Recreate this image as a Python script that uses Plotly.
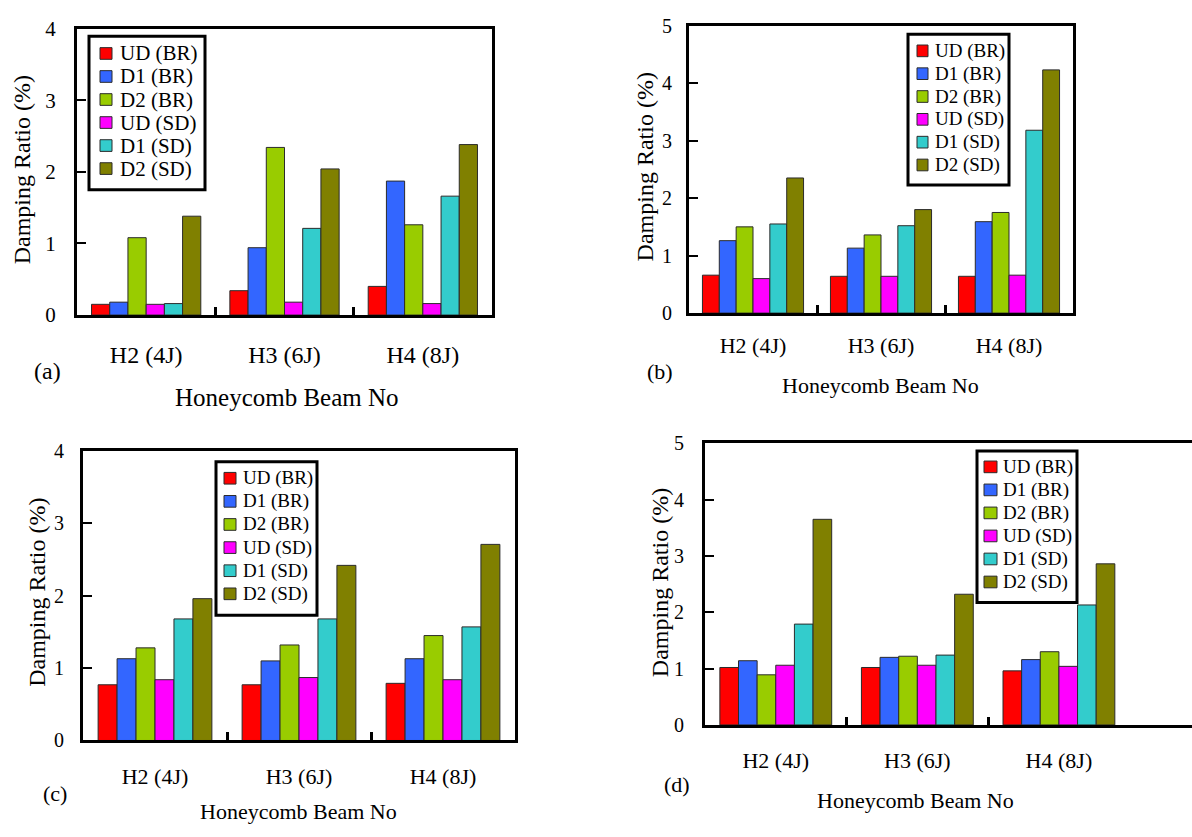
import plotly.graph_objects as go

W, H = 1192, 837
SERIF = "Liberation Serif"

# Beam categories (x axis)
beams = ["H2 (4J)", "H3 (6J)", "H4 (8J)"]

# Series names and fill colours
series_names = ["UD (BR)", "D1 (BR)", "D2 (BR)", "UD (SD)", "D1 (SD)", "D2 (SD)"]
series_colors = ["#FF0000", "#3366FF", "#99CC00", "#FF00FF", "#33CCCC", "#808000"]

# Damping ratio (%) - panel (a)
a_ud_br = [0.15, 0.34, 0.40]
a_d1_br = [0.18, 0.94, 1.87]
a_d2_br = [1.08, 2.34, 1.26]
a_ud_sd = [0.15, 0.18, 0.16]
a_d1_sd = [0.16, 1.21, 1.66]
a_d2_sd = [1.38, 2.04, 2.38]

# Damping ratio (%) - panel (b)
b_ud_br = [0.66, 0.64, 0.64]
b_d1_br = [1.26, 1.13, 1.59]
b_d2_br = [1.50, 1.36, 1.75]
b_ud_sd = [0.60, 0.64, 0.66]
b_d1_sd = [1.55, 1.52, 3.18]
b_d2_sd = [2.35, 1.80, 4.23]

# Damping ratio (%) - panel (c)
c_ud_br = [0.77, 0.77, 0.79]
c_d1_br = [1.13, 1.10, 1.13]
c_d2_br = [1.28, 1.32, 1.45]
c_ud_sd = [0.84, 0.87, 0.84]
c_d1_sd = [1.68, 1.68, 1.57]
c_d2_sd = [1.96, 2.42, 2.71]

# Damping ratio (%) - panel (d)
d_ud_br = [1.02, 1.02, 0.96]
d_d1_br = [1.14, 1.20, 1.16]
d_d2_br = [0.89, 1.22, 1.30]
d_ud_sd = [1.06, 1.06, 1.04]
d_d1_sd = [1.79, 1.24, 2.13]
d_d2_sd = [3.65, 2.32, 2.86]

y_title = "Damping Ratio (%)"
x_title = "Honeycomb Beam No"


def px(x):
    return x / W


def py(y):
    return 1 - y / H


# Layout of each panel in pixels
panels = [
    dict(tag="(a)", data=[a_ud_br, a_d1_br, a_d2_br, a_ud_sd, a_d1_sd, a_d2_sd],
         box=(77, 17, 492, 312), ymax=4, xmax=2.5, right_line=True,
         tick_fs=24, ytick_fs=21, title_fs=25, ytitle_fs=24, leg_fs=21,
         xstand=16, ystand=14,
         ytitle=(22, 163), xtitle=(287, 397), label=(47, 370),
         legend=dict(box=(89, 25, 205, 183), sw=(100, 112), tx=118, y0=42.7, dy=23.7)),
    dict(tag="(b)", data=[b_ud_br, b_d1_br, b_d2_br, b_ud_sd, b_d1_sd, b_d2_sd],
         box=(689, 14, 1073, 310), ymax=5, xmax=2.5, right_line=True,
         tick_fs=22, ytick_fs=20, title_fs=22, ytitle_fs=24, leg_fs=19,
         xstand=10, ystand=10,
         ytitle=(645, 160), xtitle=(880, 385), label=(660, 370),
         legend=dict(box=(908, 23, 1009, 178), sw=(917, 928), tx=933, y0=40, dy=23.5)),
    dict(tag="(c)", data=[c_ud_br, c_d1_br, c_d2_br, c_ud_sd, c_d1_sd, c_d2_sd],
         box=(83, 452, 515, 750), ymax=4, xmax=2.5, right_line=True,
         tick_fs=22, ytick_fs=20, title_fs=22, ytitle_fs=24, leg_fs=19,
         xstand=14, ystand=12,
         ytitle=(37, 598), xtitle=(298, 823), label=(55, 805),
         legend=dict(box=(216, 463, 317, 621), sw=(224, 236), tx=241, y0=480, dy=23.8)),
    dict(tag="(d)", data=[d_ud_br, d_d1_br, d_d2_br, d_ud_sd, d_d1_sd, d_d2_sd],
         box=(705, 444, 1192, 734), ymax=5, xmax=2.94, right_line=False,
         tick_fs=22, ytick_fs=20, title_fs=22, ytitle_fs=24, leg_fs=19,
         xstand=14, ystand=14,
         ytitle=(660, 588), xtitle=(915, 812), label=(677, 795),
         legend=dict(box=(977, 452, 1077, 608), sw=(984, 997), tx=1001, y0=468.3, dy=23.7)),
]

fig = go.Figure()
shapes = []
annotations = []
layout_axes = {}

for i, p in enumerate(panels, start=1):
    xs = "" if i == 1 else str(i)
    xref, yref = f"x{xs}", f"y{xs}"

    for name, color, vals in zip(series_names, series_colors, p["data"]):
        fig.add_trace(go.Bar(
            x=list(range(len(beams))), y=vals, name=name,
            marker=dict(color=color, line=dict(color="#2b2b2b", width=1)),
            xaxis=xref, yaxis=yref, showlegend=False,
        ))

    x0, y0, x1, y1 = p["box"]
    # Category axis: labels at group centres, short inward marks between groups
    layout_axes[f"xaxis{xs}"] = dict(
        domain=[px(x0), px(x1)], anchor=yref, range=[-0.5, p["xmax"]],
        tickmode="array", tickvals=list(range(len(beams))), ticktext=beams,
        ticks="", showline=True, linewidth=3, linecolor="black", mirror=True,
        minor=dict(tickmode="array", tickvals=[0.5, 1.5], ticks="inside",
                   ticklen=8, tickwidth=3, tickcolor="black"),
        tickfont=dict(family=SERIF, size=p["tick_fs"], color="black"),
        ticklabelstandoff=p["xstand"], showgrid=False, zeroline=False,
    )
    layout_axes[f"yaxis{xs}"] = dict(
        domain=[py(y1), py(y0)], anchor=xref, range=[0, p["ymax"]],
        tickmode="linear", tick0=0, dtick=1, ticks="inside", ticklen=9,
        tickwidth=2, tickcolor="black",
        showline=True, linewidth=3, linecolor="black",
        mirror=True if p["right_line"] else False,
        tickfont=dict(family=SERIF, size=p["ytick_fs"], color="black"),
        ticklabelstandoff=p["ystand"], showgrid=False, zeroline=False,
    )

    # Axis titles and panel tag
    annotations.append(dict(
        x=px(p["ytitle"][0]), y=py(p["ytitle"][1]), xref="paper", yref="paper",
        text=y_title, textangle=-90, showarrow=False,
        font=dict(family=SERIF, size=p["ytitle_fs"], color="black"),
        xanchor="center", yanchor="middle"))
    annotations.append(dict(
        x=px(p["xtitle"][0]), y=py(p["xtitle"][1]), xref="paper", yref="paper",
        text=x_title, showarrow=False,
        font=dict(family=SERIF, size=p["title_fs"], color="black"),
        xanchor="center", yanchor="middle"))
    annotations.append(dict(
        x=px(p["label"][0]), y=py(p["label"][1]), xref="paper", yref="paper",
        text=p["tag"], showarrow=False,
        font=dict(family=SERIF, size=p["tick_fs"], color="black"),
        xanchor="center", yanchor="middle"))

    # Boxed legend
    lg = p["legend"]
    bx0, by0, bx1, by1 = lg["box"]
    shapes.append(dict(type="rect", xref="paper", yref="paper",
                       x0=px(bx0), x1=px(bx1), y0=py(by1), y1=py(by0),
                       line=dict(color="black", width=3), fillcolor="white",
                       layer="above"))
    for k, (name, color) in enumerate(zip(series_names, series_colors)):
        cy = lg["y0"] + k * lg["dy"]
        shapes.append(dict(type="rect", xref="paper", yref="paper",
                           x0=px(lg["sw"][0]), x1=px(lg["sw"][1]),
                           y0=py(cy + 6), y1=py(cy - 6),
                           line=dict(color="#2b2b2b", width=1), fillcolor=color,
                           layer="above"))
        annotations.append(dict(
            x=px(lg["tx"]), y=py(cy), xref="paper", yref="paper",
            text=name, showarrow=False, xanchor="left", yanchor="middle",
            font=dict(family=SERIF, size=p["leg_fs"], color="black")))

fig.update_layout(
    width=W, height=H,
    margin=dict(l=0, r=0, t=0, b=0),
    paper_bgcolor="white", plot_bgcolor="white",
    barmode="group", bargap=0.21, bargroupgap=0,
    showlegend=False,
    font=dict(family=SERIF),
    shapes=shapes, annotations=annotations,
    **layout_axes,
)

fig.write_html("out.html")
